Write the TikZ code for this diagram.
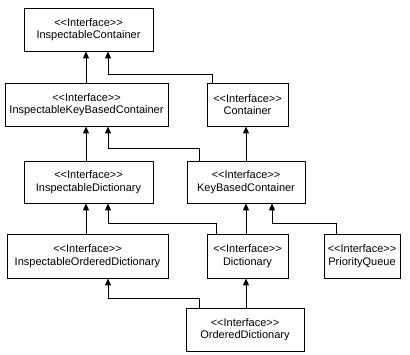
\documentclass[tikz,border=0pt]{standalone}
\usepackage{fontspec}
\setmainfont{Liberation Sans}
\usetikzlibrary{arrows.meta}
\begin{document}
\begin{tikzpicture}[x=1pt,y=-1pt,
  iface/.style={draw,line width=0.9pt,fill=white,rectangle,inner sep=0pt,minimum height=43pt,align=center,font=\fontsize{11}{12.5}\selectfont},
  arr/.style={draw,line width=0.9pt,-{Triangle[width=6pt,length=7pt]}}]
\useasboundingbox (0,0) rectangle (410,355);
\node[iface,minimum width=129pt] (ic) at (88.5,29.5) {<{}<Interface>{}>\\InspectableContainer};
\node[iface,minimum width=163pt] (ikbc) at (86.5,104.5) {<{}<Interface>{}>\\InspectableKeyBasedContainer};
\node[iface,minimum width=81pt] (c) at (247.5,104.5) {<{}<Interface>{}>\\Container};
\node[iface,minimum width=129pt,minimum height=42pt] (id) at (88.5,182) {<{}<Interface>{}>\\InspectableDictionary};
\node[iface,minimum width=118pt,minimum height=42pt] (kbc) at (246,182) {<{}<Interface>{}>\\KeyBasedContainer};
\node[iface,minimum width=161pt,minimum height=44pt] (iod) at (87.5,256) {<{}<Interface>{}>\\InspectableOrderedDictionary};
\node[iface,minimum width=81pt,minimum height=44pt] (d) at (247.5,256) {<{}<Interface>{}>\\Dictionary};
\node[iface,minimum width=76pt,minimum height=44pt] (pq) at (362,256) {<{}<Interface>{}>\\PriorityQueue};
\node[iface,minimum width=118pt] (od) at (245,329.5) {<{}<Interface>{}>\\OrderedDictionary};

\draw[arr] (ikbc.north -| 86,0) -- (ic.south -| 86,0);
\draw[arr] (c.north -| 212,0) -- (212,74) -- (108,74) -- (ic.south -| 108,0);
\draw[arr] (id.north -| 86,0) -- (ikbc.south -| 86,0);
\draw[arr] (kbc.north -| 199,0) -- (199,148) -- (108,148) -- (ikbc.south -| 108,0);
\draw[arr] (kbc.north -| 246,0) -- (c.south -| 246,0);
\draw[arr] (iod.north -| 86,0) -- (id.south -| 86,0);
\draw[arr] (d.north -| 216,0) -- (216,223) -- (108,223) -- (id.south -| 108,0);
\draw[arr] (d.north -| 246,0) -- (kbc.south -| 246,0);
\draw[arr] (pq.north -| 336,0) -- (336,223) -- (272,223) -- (kbc.south -| 272,0);
\draw[arr] (od.north -| 199,0) -- (199,298) -- (108,298) -- (iod.south -| 108,0);
\draw[arr] (od.north -| 246,0) -- (d.south -| 246,0);
\end{tikzpicture}
\end{document}
